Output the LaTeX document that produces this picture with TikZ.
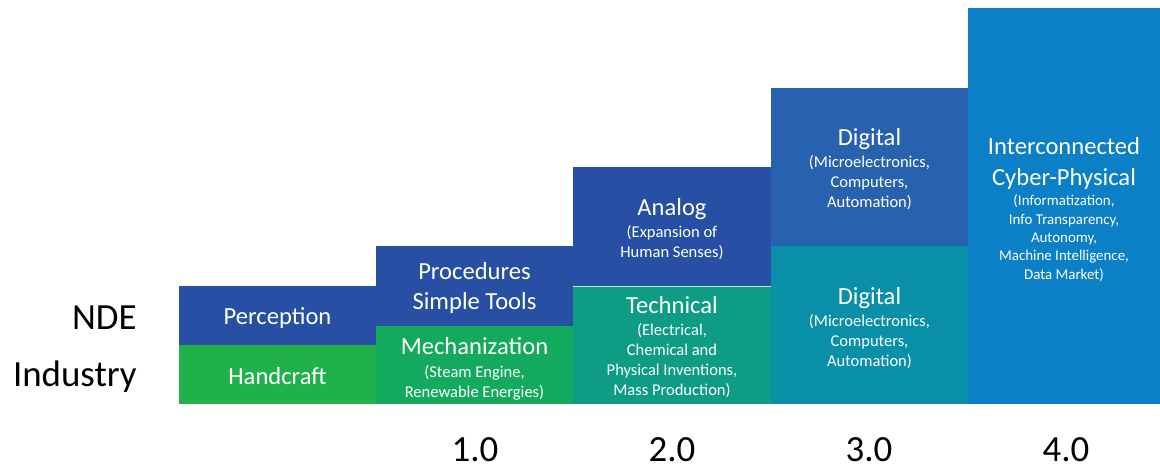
\documentclass[tikz,border=0pt]{standalone}
\usepackage{fontspec}
\setmainfont{Carlito}
\usepackage{tikz}
\usetikzlibrary{positioning}
\definecolor{ndeblue}{HTML}{2750A5}
\definecolor{digiblue}{HTML}{2862AE}
\definecolor{cyberblue}{HTML}{0B80C6}
\definecolor{craftgreen}{HTML}{21B14B}
\definecolor{mechgreen}{HTML}{14AA5E}
\definecolor{techteal}{HTML}{0E9C85}
\definecolor{digiteal}{HTML}{0A8FA9}
\newcommand{\detail}[1]{{\fontsize{9.4}{11.4}\selectfont\begin{tabular}[t]{@{}c@{}}#1\end{tabular}}}
\newcommand{\finedetail}[1]{{\fontsize{8.5}{10.4}\selectfont\begin{tabular}[t]{@{}c@{}}#1\end{tabular}}}
\tikzstyle{stage}=[text=white,align=center,inner sep=0pt,font=\fontsize{14}{17.5}\selectfont]
\tikzstyle{rowlabel}=[anchor=base east,inner sep=0pt,font=\fontsize{21}{25}\selectfont]
\tikzstyle{version}=[anchor=base,inner sep=0pt,font=\fontsize{21}{25}\selectfont]

\begin{document}
\begin{tikzpicture}[x=0.02cm,y=-0.02cm]
    % Keep the frame of the reference
    \useasboundingbox (0,0) rectangle (1160,466);
    % First we draw the blocks of each stage
    \foreach \xa/\xb/\ya/\yb/\col in {179/376/286/345/ndeblue, 179/376/345/404/craftgreen,
        376/573/246/326/ndeblue, 376/573/326/404/mechgreen,
        573/771/167/286/ndeblue, 573/771/286/404/techteal,
        771/968/88/246/digiblue, 771/968/246/404/digiteal,
        968/1160/8/404/cyberblue}
        \fill[\col] (\xa,\ya) rectangle (\xb,\yb);
    \draw[white!75!techteal,line width=0.5pt] (573,286) -- (771,286);

    % Then the texts inside the blocks
    \node[stage] (perception) at (277.5,318) {Perception};
    \node[stage] (handcraft) at (277.5,376) {Handcraft};
    \node[stage] (procedures) at (474.5,288) {Procedures\\Simple Tools};
    \node[stage] (mechanization) at (474.5,370.5) {Mechanization\\[-4.5pt]\detail{(Steam Engine,\\Renewable Energies)}};
    \node[stage] (analog) at (672,231) {Analog\\[-4.5pt]\detail{(Expansion of\\Human Senses)}};
    \node[stage] (technical) at (672,349) {Technical\\[-4.5pt]\detail{(Electrical,\\Chemical and\\Physical Inventions,\\Mass Production)}};
    \node[stage] (digitalnde) at (869.5,171) {Digital\\[-4.5pt]\detail{(Microelectronics,\\Computers,\\Automation)}};
    \node[stage] (digitalind) at (869.5,330) {Digital\\[-4.5pt]\detail{(Microelectronics,\\Computers,\\Automation)}};
    \node[stage] (cyber) at (1064,211) {Interconnected\\Cyber-Physical\\[-5.7pt]\finedetail{(Informatization,\\Info Transparency,\\Autonomy,\\Machine Intelligence,\\Data Market)}};

    % Row and version labels
    \node[rowlabel] (nde) at (137,329) {NDE};
    \node[rowlabel] (industry) at (137,386) {Industry};
    \foreach \x/\name in {475/1.0, 672/2.0, 869/3.0, 1066/4.0}
        \node[version] (v\name) at (\x,461) {\name};
\end{tikzpicture}
\end{document}
